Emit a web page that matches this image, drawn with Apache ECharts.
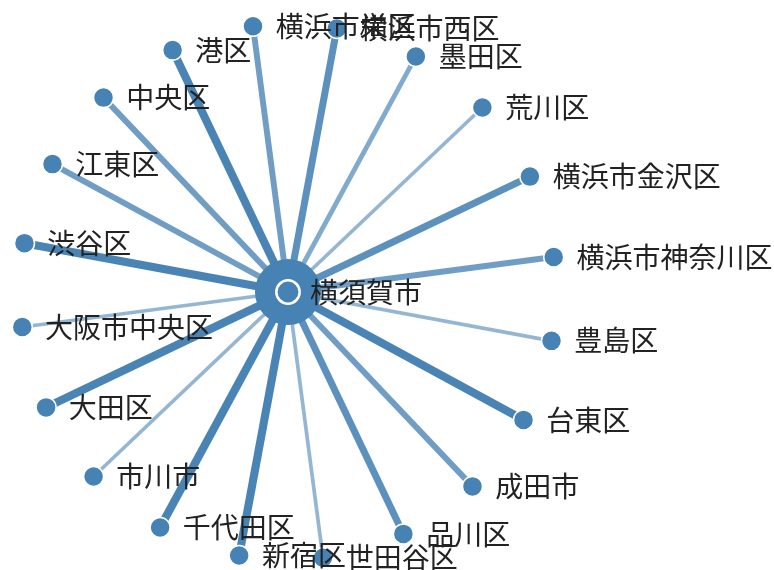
<!DOCTYPE html>
<html>
<head>
<meta charset="utf-8">
<script src="https://cdn.jsdelivr.net/npm/echarts@6/dist/echarts.min.js"></script>
<style>
  html, body { margin: 0; padding: 0; background: #fff; }
  #main { width: 774px; height: 570px; }
</style>
</head>
<body>
<div id="main"></div>
<script>
// hub city and its linked places, clockwise starting just below the right side
const hub = '横須賀市';
const places = ['豊島区', '台東区', '成田市', '品川区', '世田谷区', '新宿区', '千代田区', '市川市',
  '大田区', '大阪市中央区', '渋谷区', '江東区', '中央区', '港区', '横浜市栄区', '横浜市西区',
  '墨田区', '荒川区', '横浜市金沢区', '横浜市神奈川区'];
// link strength (1 = weak, 5 = strong)
const strength = [1, 5, 3, 4, 1, 5, 5, 1, 5, 1, 5, 3, 3, 5, 3, 4, 2, 1, 4, 3];

const blue = '#4682b4';
const cx = 288, cy = 292, radius = 268;
const startDeg = 10.5, stepDeg = 18;

const hubIcon = 'image://data:image/svg+xml;utf8,' + encodeURIComponent(
  "<svg xmlns='http://www.w3.org/2000/svg' width='72' height='72'>" +
  "<circle cx='36' cy='36' r='34' fill='" + blue + "'/>" +
  "<circle cx='36' cy='36' r='12' fill='none' stroke='#fff' stroke-width='2.6'/></svg>");

const nodes = [{
  name: hub, x: cx, y: cy,
  symbol: hubIcon, symbolSize: 70,
  label: { distance: -13 }
}];
places.forEach((p, i) => {
  const a = (startDeg + i * stepDeg) * Math.PI / 180;
  nodes.push({ name: p, x: cx + radius * Math.cos(a), y: cy + radius * Math.sin(a) });
});

const links = places.map((p, i) => ({
  source: hub, target: p, value: strength[i],
  lineStyle: { width: 2.6 + strength[i] * 1.1, opacity: 0.48 + strength[i] * 0.1 }
}));

const xs = nodes.map(n => n.x), ys = nodes.map(n => n.y);
const minX = Math.min(...xs), maxX = Math.max(...xs);
const minY = Math.min(...ys), maxY = Math.max(...ys);

const chart = echarts.init(document.getElementById('main'));
chart.setOption({
  backgroundColor: '#fff',
  animation: false,
  series: [{
    type: 'graph',
    layout: 'none',
    left: minX, top: minY, width: maxX - minX, height: maxY - minY,
    symbol: 'circle',
    symbolSize: 20,
    itemStyle: { color: blue, borderColor: '#fff', borderWidth: 1.5 },
    lineStyle: { color: blue, curveness: 0 },
    label: {
      show: true, position: 'right', distance: 12,
      color: '#222', fontSize: 28,
      fontFamily: '"Noto Sans CJK JP", "Noto Sans", sans-serif'
    },
    data: nodes,
    links: links
  }]
});
</script>
</body>
</html>
